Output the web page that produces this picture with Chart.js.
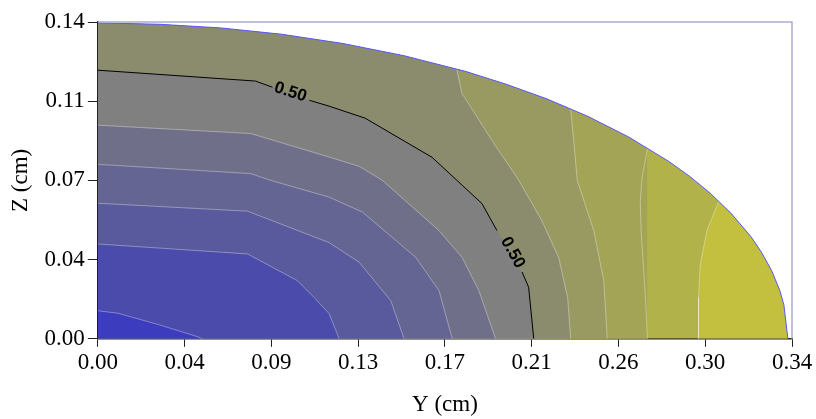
<!DOCTYPE html>
<html>
<head>
<meta charset="utf-8">
<script src="https://cdn.jsdelivr.net/npm/chart.js@4.4.1/dist/chart.umd.min.js"></script>
<style>
  html, body { margin: 0; padding: 0; background: #fff; }
</style>
</head>
<body>
<canvas id="contourChart" width="816" height="419"></canvas>
<script>
// axis ticks
const xTickLabels = ['0.00', '0.04', '0.09', '0.13', '0.17', '0.21', '0.26', '0.30', '0.34'];
const zTickLabels = ['0.00', '0.04', '0.07', '0.11', '0.14'];
const yMax = 0.34;
const zMax = 0.14;

// outer edge of the section (Y, Z in cm)
const edgeY = [0, 0.03, 0.06, 0.09, 0.12, 0.15, 0.18, 0.20, 0.22, 0.24, 0.26, 0.28, 0.29, 0.30, 0.31, 0.32, 0.325, 0.33, 0.334, 0.336, 0.338];
const edgeZ = [0.1396, 0.1390, 0.1374, 0.1346, 0.1305, 0.1251, 0.1182, 0.1125, 0.1060, 0.0983, 0.0892, 0.0782, 0.0717, 0.0643, 0.0556, 0.0450, 0.0383, 0.0302, 0.0214, 0.0151, 0];

// contour lines, inner to outer, as [Y, Z] points
const c1 = [[0, 0.0124], [0.0098, 0.0113], [0.0300, 0.0062], [0.0489, 0.0009], [0.0513, 0]];
const c2 = [[0, 0.0419], [0.0733, 0.0375], [0.0977, 0.0257], [0.1059, 0.0183], [0.1133, 0.0111], [0.1182, 0]];
const c3 = [[0, 0.0599], [0.0733, 0.0564], [0.1133, 0.0425], [0.1280, 0.0338], [0.1435, 0.0168], [0.1500, 0]];
const c4 = [[0, 0.0771], [0.0749, 0.0730], [0.0847, 0.0700], [0.1133, 0.0626], [0.1296, 0.0560], [0.1557, 0.0360], [0.1671, 0.0213], [0.1736, 0]];
const c5 = [[0, 0.0944], [0.0749, 0.0907], [0.1133, 0.0803], [0.1280, 0.0762], [0.1394, 0.0700], [0.1671, 0.0478], [0.1784, 0.0360], [0.1866, 0.0213], [0.1948, 0]];
const c50 = [[0, 0.1187], [0.0772, 0.1139], [0.0855, 0.1112], [0.1036, 0.1054], [0.1133, 0.1028], [0.1309, 0.0975], [0.1637, 0.0802], [0.1759, 0.0700], [0.1881, 0.0598], [0.1955, 0.0478], [0.2078, 0.0295], [0.2110, 0.0228], [0.2135, 0]];
const c50Gaps = [2, 9];
const c7 = [[0.1759, 0.1188], [0.1783, 0.1085], [0.1930, 0.0877], [0.2062, 0.0700], [0.2174, 0.0523], [0.2257, 0.0359], [0.2301, 0.0182], [0.2316, 0]];
const c8 = [[0.2316, 0.1015], [0.2332, 0.0863], [0.2348, 0.0700], [0.2429, 0.0478], [0.2478, 0.0257], [0.2495, 0]];
const c9 = [[0.2692, 0.0840], [0.2666, 0.0715], [0.2657, 0.0611], [0.2661, 0.0478], [0.2666, 0.0405], [0.2682, 0.0183], [0.2692, 0]];
const c10 = [[0.3040, 0.0605], [0.2983, 0.0478], [0.2951, 0.0331], [0.2942, 0.0183], [0.2942, 0]];

// band colours, inner (blue) to outer (yellow)
const bandColors = ['#3c3cbf', '#4b4bac', '#59599e', '#656594', '#6f6f8a', '#808080', '#8b8b6e', '#999962', '#a4a457', '#b2b24b', '#c2c03e'];

// "0.50" labels on the contour
const labelY = [0.0943, 0.2032];
const labelZ = [0.1090, 0.0381];
const labelAngle = [18, 61];

const pts = arr => arr.map(([x, y]) => ({x, y}));
const edge = edgeY.map((y, i) => ({x: y, y: edgeZ[i]}));

// area from the origin out to a contour (follows the edge up to where the contour starts)
function inside(contour) {
  const c = pts(contour);
  const head = c[0].x > 0 ? edge.filter(p => p.x < c[0].x) : [];
  return head.concat(c);
}
// area beyond a contour, out to the edge
function outside(contour) {
  const c = pts(contour).reverse();
  return c.concat(edge.filter(p => p.x > c[c.length - 1].x));
}

const areaSet = (data, color, order) => ({
  data, showLine: true, fill: 'origin', backgroundColor: color,
  borderColor: 'transparent', borderWidth: 0, pointRadius: 0, order
});
const lineSet = (data, color, order) => ({
  data: pts(data), showLine: true, fill: false, borderColor: color,
  borderWidth: 1, pointRadius: 0, order
});

const insideContours = [c1, c2, c3, c4, c5, c50, c7, c8, c9];
const datasets = [
  areaSet(edge, bandColors[9], 30),
  areaSet(outside(c10), bandColors[10], 29)
];
insideContours.forEach((c, i) => datasets.push(areaSet(inside(c), bandColors[i], 20 - (8 - i))));
[c1, c2, c3, c4, c5, c7, c8, c9, c10].forEach(c => datasets.push(lineSet(c, 'rgba(255,255,255,0.35)', 5)));
datasets.push({
  ...lineSet(c50, '#000', 4),
  segment: { borderColor: ctx => c50Gaps.includes(ctx.p0DataIndex) ? 'transparent' : '#000' }
});
datasets.push({ ...lineSet([], '#5a5aff', 3), data: edge });

const serif = { family: "'Liberation Serif', 'Times New Roman', serif", size: 23 };

const extras = {
  id: 'extras',
  afterDatasetsDraw(chart) {
    const { ctx, chartArea: a, scales: { x, y } } = chart;
    ctx.save();
    ctx.strokeStyle = '#aaaad8';
    ctx.lineWidth = 1.5;
    ctx.beginPath();
    ctx.moveTo(a.left, a.top);
    ctx.lineTo(a.right, a.top);
    ctx.lineTo(a.right, a.bottom);
    ctx.stroke();
    ctx.font = "bold 17px 'Liberation Sans', Arial, sans-serif";
    ctx.fillStyle = '#000';
    ctx.textAlign = 'center';
    ctx.textBaseline = 'middle';
    labelY.forEach((ly, i) => {
      ctx.save();
      ctx.translate(x.getPixelForValue(ly), y.getPixelForValue(labelZ[i]));
      ctx.rotate(labelAngle[i] * Math.PI / 180);
      ctx.fillText('0.50', 0, 0);
      ctx.restore();
    });
    ctx.restore();
  }
};

new Chart(document.getElementById('contourChart'), {
  type: 'scatter',
  data: { datasets },
  options: {
    responsive: false,
    animation: false,
    layout: { padding: { left: 4, right: 24, top: 22, bottom: 0 } },
    plugins: { legend: { display: false }, tooltip: { enabled: false } },
    scales: {
      x: {
        type: 'linear', min: 0, max: yMax, z: 1,
        afterBuildTicks: s => { s.ticks = xTickLabels.map((_, i) => ({ value: i * yMax / (xTickLabels.length - 1) })); },
        ticks: { autoSkip: false, maxRotation: 0, padding: 2, color: '#000', font: serif, callback: (v, i) => xTickLabels[i] },
        grid: { drawOnChartArea: false, drawTicks: true, tickLength: 8, color: '#222' },
        border: { color: '#222', width: 1.5 },
        title: { display: true, text: 'Y (cm)', color: '#000', font: serif, padding: { top: 13, bottom: 0 } }
      },
      y: {
        type: 'linear', min: 0, max: zMax, z: 1,
        afterBuildTicks: s => { s.ticks = zTickLabels.map((_, i) => ({ value: i * zMax / (zTickLabels.length - 1) })); },
        ticks: { autoSkip: false, padding: 3, color: '#000', font: serif, callback: (v, i) => zTickLabels[i] },
        grid: { drawOnChartArea: false, drawTicks: true, tickLength: 10, color: '#222' },
        border: { color: '#222', width: 1.5 },
        title: { display: true, text: 'Z (cm)', color: '#000', font: serif, padding: { top: 3, bottom: 7 } }
      }
    }
  },
  plugins: [extras]
});
</script>
</body>
</html>
